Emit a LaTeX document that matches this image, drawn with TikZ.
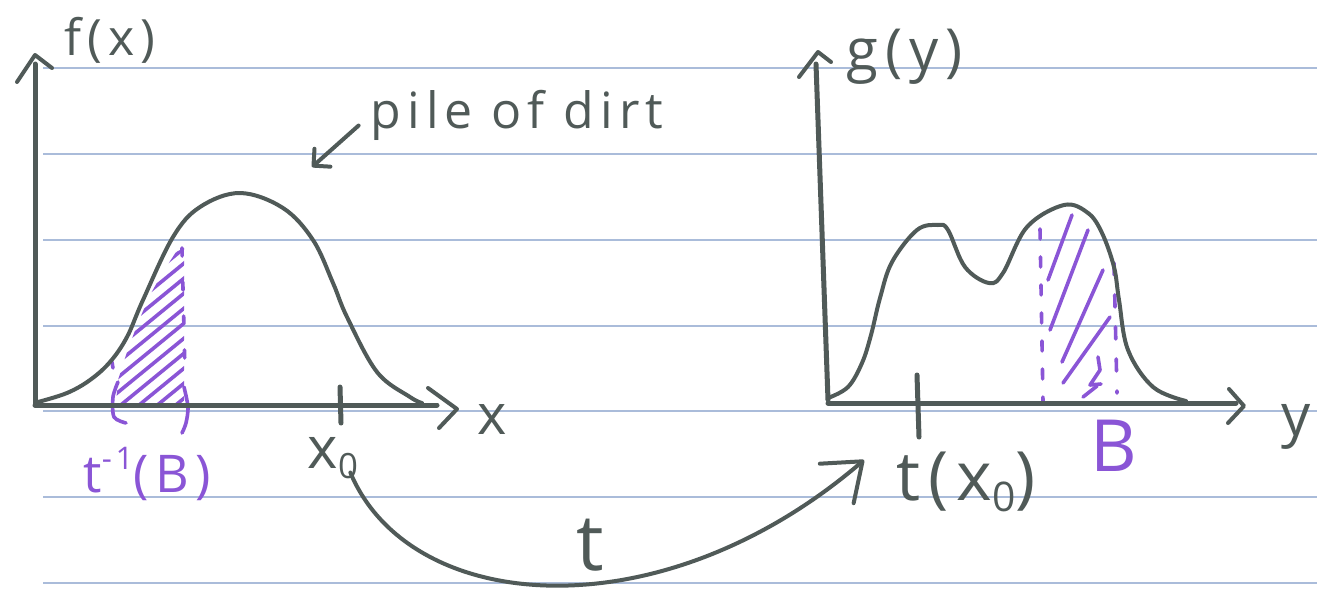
\documentclass[tikz,border=0pt]{standalone}
\usepackage{fontspec}
\setmainfont{Open Sans}[LetterSpace=12]
\usetikzlibrary{arrows.meta,calc}
\definecolor{ink}{HTML}{505A58}
\definecolor{vio}{HTML}{8A55D6}
\definecolor{rulec}{HTML}{AABCDA}
\newcommand\fsz[1]{\fontsize{#1}{#1}\selectfont}
\newcommand\lowsub[1]{\raisebox{-0.3ex}{\scalebox{0.6}{#1}}}
\newcommand\highsup[1]{\raisebox{0.8ex}{\scalebox{0.6}{#1}}}
\begin{document}
\begin{tikzpicture}[x=1pt,y=-1pt,
  inkline/.style={draw=ink,line width=4pt,line cap=round,line join=round},
  axisline/.style={draw=ink,line width=5pt,line cap=round},
  violine/.style={draw=vio,line width=3.6pt,line cap=round,line join=round},
  rulel/.style={draw=rulec,line width=1.4pt},
  inklbl/.style={text=ink,inner sep=0pt},
  violbl/.style={text=vio,inner sep=0pt}]
\fill[white] (0,0) rectangle (1317,592);
\useasboundingbox (0,0) rectangle (1317,592);
\foreach \yy in {68,154,240,326,411,497,583} \draw[rulel] (43,\yy) -- (1317,\yy);

% ---------- left plot ----------
\begin{scope}
\clip (116,403) -- (118,380) -- (126,355) -- (137,325) -- (150,295) -- (163,272) -- (176,252) -- (184,248) -- (184,403) -- cycle;
\foreach \k in {0,...,13} \draw[violine] (100,\k*15+272) -- (210,\k*15+182);
\end{scope}
\draw[violine, dash pattern=on 8pt off 26pt] (182,248) -- (185,370);
\draw[violine] (112,362) -- (113,368);
\draw[violine] plot[smooth] coordinates {(118,382) (113,397) (114,417) (126,423)};
\draw[violine] plot[smooth] coordinates {(184,387) (188,407) (186,423) (182,433)};

\draw[axisline] (35,405) -- (35,64);
\draw[inkline] (17,82) -- (35,55) -- (52,68);
\draw[axisline] (35,405) -- (437,405);
\draw[inkline] (428,388) -- (457,409) -- (439,428);
\draw[axisline] (340,387) -- (341,423);
\draw[inkline] plot[smooth, tension=0.6] coordinates {(38,402) (67,393) (90,380) (110,362) (127,337) (143,300) (173,237) (200,207) (240,193) (283,208) (313,240) (333,283) (347,317) (377,372) (410,397) (422,403)};

\node[inklbl, font=\fsz{50}] (fx) at (110,40) {f(x)};
\node[inklbl, font=\fsz{50}, anchor=base] (pile) at (517,128) {pile of dirt};
\coordinate (pa) at (312,167);
\draw[inkline, -{Straight Barb[length=12pt,width=24pt,round]}, shorten <=16pt] (pile.west) -- (pa);
\node[inklbl, font=\fsz{56}] (xl) at (492,420) {x};
\node[inklbl, font=\fsz{58}] (x0) at (333,458) {x\lowsub{0}};
\node[violbl, font=\fsz{52}] (tinv) at (147,474) {t\highsup{-1}(B)};

% ---------- right plot ----------
\draw[violine] (1048,280) -- (1072,215);
\draw[violine] (1050,330) -- (1088,230);
\draw[violine] (1062,362) -- (1103,270);
\draw[violine] (1063,383) -- (1110,317);
\draw[violine] (1098,357) -- (1100,370) -- (1090,385) -- (1101,384);
\draw[violine] (1083,397) -- (1097,386);
\draw[violine, dash pattern=on 10pt off 18pt] (1040,229) -- (1043,402);
\draw[violine, dash pattern=on 12pt off 20pt] (1114,263) -- (1117,393);

\draw[axisline] (828,400) -- (816,64);
\draw[inkline] (799,77) -- (818,52) -- (831,62);
\draw[axisline] (828,403) -- (1236,403);
\draw[inkline] (1229,389) -- (1244,406) -- (1228,423);
\draw[axisline] (917,375) -- (919,437);
\draw[inkline] plot[smooth, tension=0.6] coordinates {(828,398) (848,387) (862,363) (871,335) (880,298) (892,262) (917,230) (938,225) (948,230) (965,267) (989,283) (1003,273) (1027,227) (1064,205) (1088,213) (1102,233) (1114,267) (1119,300) (1128,350) (1153,387) (1186,401)};

\node[inklbl, font=\fsz{58}, anchor=base] (gy) at (905,70) {g(y)};
\node[inklbl, font=\fsz{58}, anchor=base] (yl) at (1296,435) {y};
\node[inklbl, font=\fsz{68}] (tx0) at (966,482) {t(x\lowsub{0})};
\node[violbl, font=\fsz{72}] (Bl) at (1114,446) {B};
\node[inklbl, font=\fsz{78}] (tl) at (590,545) {t};

\draw[inkline, -{Straight Barb[length=34pt,width=52pt,round]}] ($(x0.south east)+(-8,-6)$) .. controls (410,615) and (660,635) .. ($(tx0.west)+(-32,-22)$);
\end{tikzpicture}
\end{document}
